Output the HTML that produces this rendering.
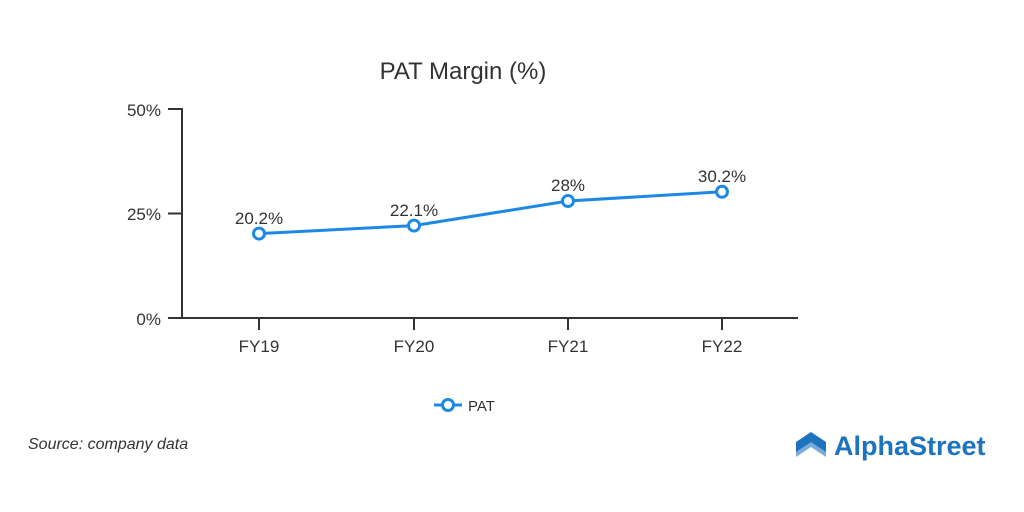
<!DOCTYPE html>
<html><head><style>body{margin:0;background:#fff}svg{display:block}</style></head><body>
<svg width="1024" height="512" xmlns="http://www.w3.org/2000/svg" font-family="Liberation Sans, sans-serif">
<rect width="1024" height="512" fill="#fff"/>
<text x="463" y="79" font-size="24" fill="#333" text-anchor="middle">PAT Margin (%)</text>
<g stroke="#333" stroke-width="2" fill="none">
<line x1="182" y1="108" x2="182" y2="319"/>
<line x1="168" y1="318" x2="798" y2="318"/>
<line x1="168" y1="109" x2="182" y2="109"/>
<line x1="168" y1="213.5" x2="182" y2="213.5"/>
<line x1="259" y1="318" x2="259" y2="330"/>
<line x1="414" y1="318" x2="414" y2="330"/>
<line x1="568" y1="318" x2="568" y2="330"/>
<line x1="722" y1="318" x2="722" y2="330"/>
</g>
<g font-size="17" fill="#333" text-anchor="end">
<text x="161" y="116">50%</text><text x="161" y="220">25%</text><text x="161" y="325">0%</text>
</g>
<g font-size="17" fill="#333" text-anchor="middle">
<text x="259" y="352">FY19</text><text x="414" y="352">FY20</text><text x="568" y="352">FY21</text><text x="722" y="352">FY22</text>
<text x="259" y="224">20.2%</text><text x="414" y="216">22.1%</text><text x="568" y="191">28%</text><text x="722" y="182">30.2%</text>
</g>
<polyline points="259,233.6 414,225.6 568,201 722,191.8" fill="none" stroke="#1e88e5" stroke-width="3"/>
<g fill="#fff" stroke="#1e88e5" stroke-width="3">
<circle cx="259" cy="233.6" r="5.5"/><circle cx="414" cy="225.6" r="5.5"/><circle cx="568" cy="201" r="5.5"/><circle cx="722" cy="191.8" r="5.5"/>
</g>
<line x1="434" y1="405" x2="462" y2="405" stroke="#1e88e5" stroke-width="3"/>
<circle cx="448" cy="405" r="5.5" fill="#fff" stroke="#1e88e5" stroke-width="3"/>
<text x="468" y="411" font-size="15" fill="#333">PAT</text>
<text x="28" y="449" font-size="16" font-style="italic" fill="#333">Source: company data</text>
<g fill="#1e73be">
<polygon points="796,442 811,432 826,442 826,452 811,442 796,452"/>
<polygon points="796,447 811,437 826,447 826,457 811,447 796,457" opacity="0.6"/>
</g>
<text x="834" y="455" font-size="27" font-weight="bold" fill="#1e73be">AlphaStreet</text>
</svg>
</body></html>
